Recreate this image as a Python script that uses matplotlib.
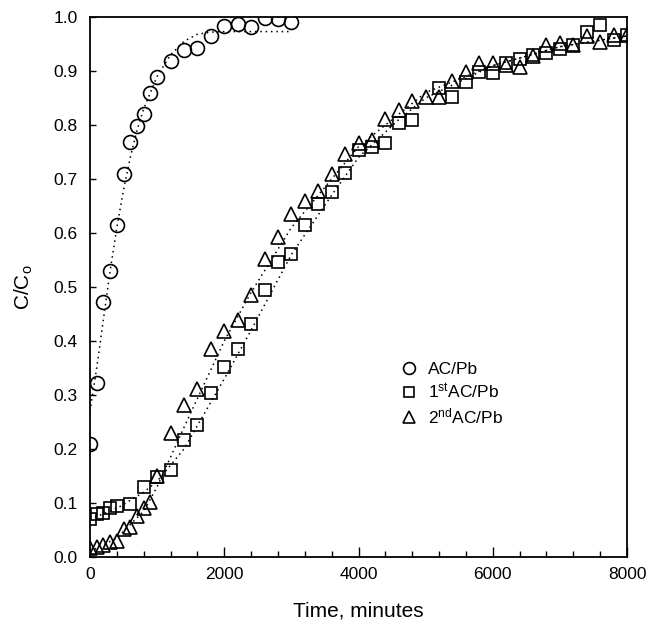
import numpy as np
import matplotlib as mpl
import matplotlib.pyplot as plt
from matplotlib.ticker import MultipleLocator

# --- data ---
# AC/Pb (circles)
t_ac = [0, 100, 200, 300, 400, 500, 600, 700, 800, 900, 1000, 1200, 1400,
        1600, 1800, 2000, 2200, 2400, 2600, 2800, 3000]
c_ac = [0.210, 0.322, 0.473, 0.530, 0.614, 0.710, 0.769, 0.799, 0.820, 0.859,
        0.888, 0.919, 0.939, 0.943, 0.964, 0.983, 0.987, 0.982, 0.999, 0.996, 0.990]

# 1st AC/Pb (squares)
t_1st = [0, 100, 200, 300, 400, 600, 800, 1000, 1200, 1400, 1600, 1800, 2000,
         2200, 2400, 2600, 2800, 3000, 3200, 3400, 3600, 3800, 4000, 4200,
         4400, 4600, 4800, 5200, 5400, 5600, 5800, 6000, 6200, 6400, 6600,
         6800, 7000, 7200, 7400, 7600, 7800, 8000]
c_1st = [0.070, 0.080, 0.081, 0.090, 0.094, 0.099, 0.129, 0.149, 0.162, 0.217,
         0.245, 0.303, 0.351, 0.385, 0.431, 0.494, 0.547, 0.561, 0.615, 0.654,
         0.676, 0.712, 0.754, 0.760, 0.767, 0.803, 0.810, 0.868, 0.852, 0.880,
         0.899, 0.897, 0.914, 0.923, 0.930, 0.933, 0.940, 0.948, 0.973, 0.985,
         0.957, 0.967]

# 2nd AC/Pb (triangles)
t_2nd = [0, 100, 200, 300, 400, 500, 600, 700, 800, 900, 1000, 1200, 1400,
         1600, 1800, 2000, 2200, 2400, 2600, 2800, 3000, 3200, 3400, 3600,
         3800, 4000, 4200, 4400, 4600, 4800, 5000, 5200, 5400, 5600, 5800,
         6000, 6200, 6400, 6600, 6800, 7000, 7200, 7400, 7600, 7800, 8000]
c_2nd = [0.016, 0.019, 0.022, 0.027, 0.030, 0.051, 0.056, 0.076, 0.090, 0.101,
         0.150, 0.229, 0.281, 0.312, 0.386, 0.419, 0.439, 0.485, 0.551, 0.593,
         0.636, 0.660, 0.678, 0.709, 0.746, 0.767, 0.773, 0.812, 0.828, 0.844,
         0.851, 0.851, 0.881, 0.899, 0.914, 0.914, 0.911, 0.908, 0.927, 0.948,
         0.951, 0.948, 0.964, 0.954, 0.967, 0.967]

# dotted model curves
fit_t_ac = [0, 50, 100, 200, 300, 400, 500, 600, 700, 800, 900, 1000, 1200,
            1400, 1600, 1800, 2000, 3000]
fit_c_ac = [0.27, 0.31, 0.35, 0.44, 0.53, 0.61, 0.68, 0.74, 0.79, 0.83, 0.86,
            0.89, 0.93, 0.955, 0.968, 0.972, 0.973, 0.973]

fit_t_1st = [0, 400, 800, 1000, 1400, 2000, 2400, 3000, 3600, 4000, 4600,
             5000, 6000, 7000, 8000]
fit_c_1st = [0.07, 0.09, 0.12, 0.14, 0.20, 0.33, 0.42, 0.56, 0.67, 0.74, 0.81,
             0.85, 0.91, 0.945, 0.965]

fit_t_2nd = [0, 400, 800, 1000, 1400, 2000, 2400, 3000, 3600, 4000, 4600,
             5000, 6000, 7000, 8000]
fit_c_2nd = [0.01, 0.035, 0.085, 0.13, 0.24, 0.40, 0.49, 0.61, 0.70, 0.76,
             0.82, 0.86, 0.91, 0.945, 0.965]

labels = ['AC/Pb', r'1$^{\rm st}$AC/Pb', r'2$^{\rm nd}$AC/Pb']

# global look
mpl.rcParams['font.family'] = ['Liberation Sans', 'DejaVu Sans']
mpl.rcParams['mathtext.fontset'] = 'custom'
mpl.rcParams['mathtext.rm'] = 'Liberation Sans'
mpl.rcParams['mathtext.it'] = 'Liberation Sans:italic'

fig = plt.figure(figsize=(6.49, 6.26), dpi=100)
ax = fig.add_axes([90/649, 69/626, 537/649, 540/626])

mk = dict(linestyle='none', markerfacecolor='none', markeredgecolor='black',
          markeredgewidth=1.2)
dot = dict(color='black', linestyle=(0, (1, 2.5)), linewidth=1.1)

#model curves
ax.plot(fit_t_ac, fit_c_ac, **dot, zorder=1)
ax.plot(fit_t_1st, fit_c_1st, **dot, zorder=1)
ax.plot(fit_t_2nd, fit_c_2nd, **dot, zorder=1)

#measured points
h1, = ax.plot(t_ac, c_ac, marker='o', markersize=10, label=labels[0], **mk)
h2, = ax.plot(t_1st, c_1st, marker='s', markersize=9, label=labels[1], **mk)
h3, = ax.plot(t_2nd, c_2nd, marker='^', markersize=10.5, label=labels[2], **mk)

ax.set_xlim(0, 8000)
ax.set_ylim(0, 1.0)
ax.xaxis.set_major_locator(MultipleLocator(2000))
ax.xaxis.set_minor_locator(MultipleLocator(400))
ax.yaxis.set_major_locator(MultipleLocator(0.1))
ax.yaxis.set_major_formatter(mpl.ticker.FormatStrFormatter('%.1f'))
ax.tick_params(axis='x', which='major', direction='in', length=7, width=1,
               labelsize=12.5, pad=7)
ax.tick_params(axis='x', which='minor', direction='in', length=4, width=1)
ax.tick_params(axis='y', which='major', direction='in', length=4, width=1,
               labelsize=12.5, pad=9)
for s in ax.spines.values():
    s.set_linewidth(1.3)

ax.set_xlabel('Time, minutes', fontsize=15, labelpad=14)
ax.set_ylabel(r'C/C$_{\rm o}$', fontsize=15, labelpad=13)

leg = ax.legend(handles=[h1, h2, h3], loc='upper left',
                bbox_to_anchor=(0.548, 0.391), frameon=False, fontsize=12.5,
                handlelength=1.0, handletextpad=0.6, labelspacing=0.3,
                markerscale=0.85)

fig.savefig('out.png', dpi=100)
